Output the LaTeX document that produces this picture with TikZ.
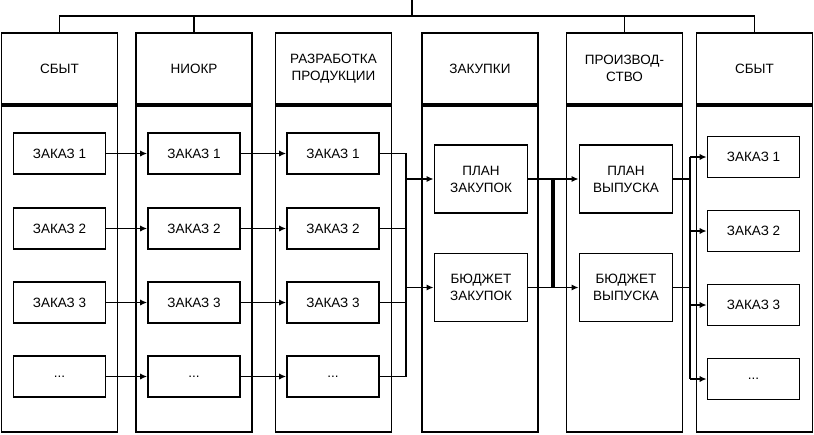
\documentclass[tikz,border=0pt]{standalone}
\usepackage{fontspec}
\setmainfont{Liberation Sans}
\usepackage{tikz}
\usetikzlibrary{arrows.meta}

\begin{document}
\begin{tikzpicture}[x=0.025cm,y=-0.025cm,line width=1.2pt,
  font=\fontsize{9.6}{12}\selectfont,
  head/.style={draw,rectangle,align=center,minimum width=2.9cm,minimum height=1.775cm,anchor=center},
  body/.style={draw,rectangle,minimum width=2.9cm,minimum height=8.15cm,anchor=north},
  order/.style={draw,rectangle,minimum width=2.3cm,minimum height=1.025cm},
  plan/.style={draw,rectangle,align=center,minimum width=2.33cm,minimum height=1.7cm},
  arr/.style={-{Latex[length=5pt,width=4.5pt]}}]
\useasboundingbox (0,0) rectangle (814,434);

% columns
\node[head] (h1) at (59.5,68.5) {СБЫТ};
\node[head] (h2) at (194,68.5) {НИОКР};
\node[head] (h3) at (333.5,68.5) {РАЗРАБОТКА\\ПРОДУКЦИИ};
\node[head] (h4) at (480,68.5) {ЗАКУПКИ};
\node[head] (h5) at (624.5,68.5) {ПРОИЗВОД-\\СТВО};
\node[head] (h6) at (754.5,68.5) {СБЫТ};
\node[body] (b1) at (h1.south) {};
\node[body] (b2) at (h2.south) {};
\node[body] (b3) at (h3.south) {};
\node[body] (b4) at (h4.south) {};
\node[body] (b5) at (h5.south) {};
\node[body] (b6) at (h6.south) {};

% top bar
\coordinate (root) at (412,0);
\coordinate (bar) at (412,16);
\draw (root) -- (bar);
\draw (h1.north) |- (bar) -| (h6.north);
\draw (h2.north) |- (bar);
\draw (h5.north) |- (bar);

% orders
\node[order] (c11) at (59.5,153.5) {ЗАКАЗ 1};
\node[order] (c12) at (59.5,228.5) {ЗАКАЗ 2};
\node[order] (c13) at (59.5,302.5) {ЗАКАЗ 3};
\node[order] (c14) at (59.5,376.5) {...};
\node[order] (c21) at (194,153.5) {ЗАКАЗ 1};
\node[order] (c22) at (194,228.5) {ЗАКАЗ 2};
\node[order] (c23) at (194,302.5) {ЗАКАЗ 3};
\node[order] (c24) at (194,376.5) {...};
\node[order] (c31) at (333,153.5) {ЗАКАЗ 1};
\node[order] (c32) at (333,228.5) {ЗАКАЗ 2};
\node[order] (c33) at (333,302.5) {ЗАКАЗ 3};
\node[order] (c34) at (333,376.5) {...};
\node[order] (s1) at (753.5,157) {ЗАКАЗ 1};
\node[order] (s2) at (753.5,231) {ЗАКАЗ 2};
\node[order] (s3) at (753.5,305) {ЗАКАЗ 3};
\node[order] (s4) at (753.5,379) {...};

% plans
\node[plan] (pz) at (481,179) {ПЛАН\\ЗАКУПОК};
\node[plan] (bz) at (481,287.5) {БЮДЖЕТ\\ЗАКУПОК};
\node[plan] (pv) at (626,179) {ПЛАН\\ВЫПУСКА};
\node[plan] (bv) at (626,287.5) {БЮДЖЕТ\\ВЫПУСКА};

\draw[arr] (c11) -- (c21);
\draw[arr] (c12) -- (c22);
\draw[arr] (c13) -- (c23);
\draw[arr] (c14) -- (c24);
\draw[arr] (c21) -- (c31);
\draw[arr] (c22) -- (c32);
\draw[arr] (c23) -- (c33);
\draw[arr] (c24) -- (c34);

% left bus
\coordinate (bl) at (406,0);
\draw (c31.east) -- (c31.east -| bl) -- (c34.east -| bl) -- (c34.east);
\draw (c32.east) -- (c32.east -| bl);
\draw (c33.east) -- (c33.east -| bl);
\draw[arr] (pz.west -| bl) -- (pz.west);
\draw[arr] (bz.west -| bl) -- (bz.west);

% middle
\coordinate (bm) at (553,0);
\draw[arr] (pz) -- (pv);
\draw[arr] (bz) -- (bv);
\draw[line width=2.6pt] (pz.east -| bm) -- (bz.east -| bm);

% right bus
\coordinate (br) at (690,0);
\draw (pv.east) -- (pv.east -| br);
\draw (bv.east) -- (bv.east -| br);
\draw (s1.west -| br) -- (s4.west -| br);
\draw[arr] (s1.west -| br) -- (s1.west);
\draw[arr] (s2.west -| br) -- (s2.west);
\draw[arr] (s3.west -| br) -- (s3.west);
\draw[arr] (s4.west -| br) -- (s4.west);
\end{tikzpicture}
\end{document}
